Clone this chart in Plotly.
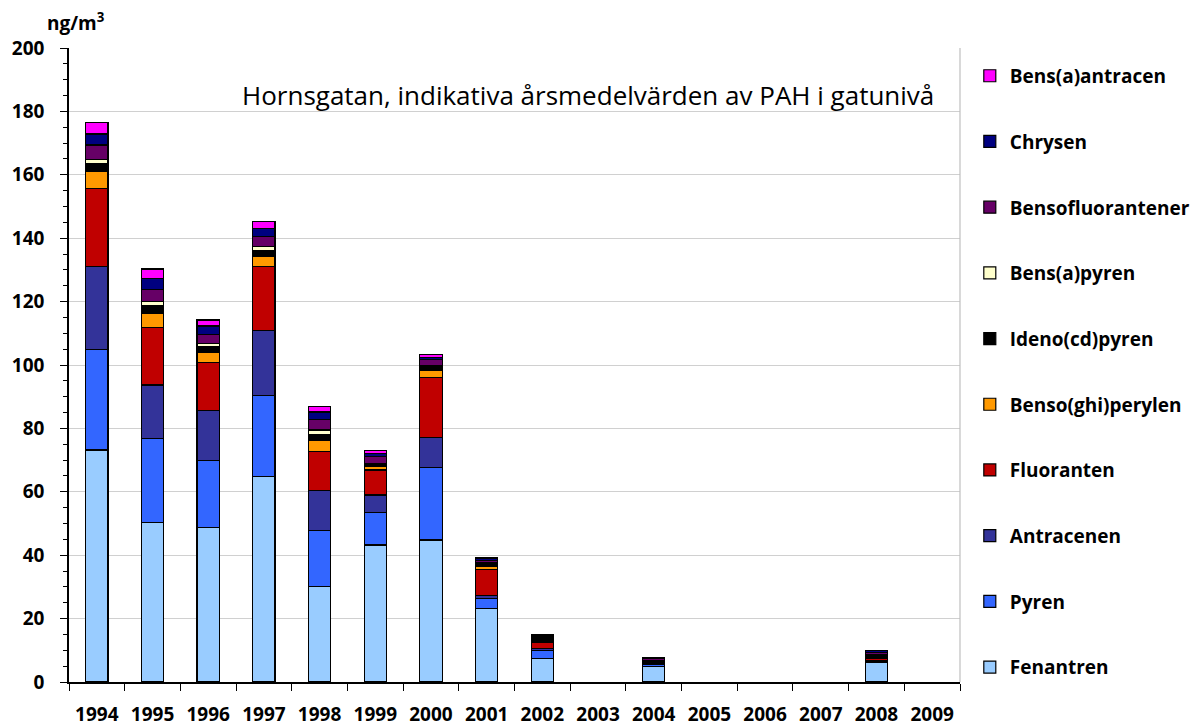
import plotly.graph_objects as go

years = ["1994", "1995", "1996", "1997", "1998", "1999", "2000", "2001",
         "2002", "2003", "2004", "2005", "2006", "2007", "2008", "2009"]

fenantren = [73.2, 50.3, 48.8, 64.8, 30.2, 43.2, 44.8, 23.2, 7.4, None, 5.0, None, None, None, 6.1, None]
pyren = [31.8, 26.5, 21.1, 25.6, 17.7, 10.3, 22.8, 3.2, 2.6, None, 0.4, None, None, None, 0.5, None]
antracenen = [26.0, 16.9, 15.8, 20.6, 12.6, 5.5, 9.5, 1.0, 0.6, None, 0.2, None, None, None, 0.3, None]
fluoranten = [24.7, 18.1, 15.0, 20.0, 12.1, 7.9, 18.9, 8.1, 1.9, None, 0.1, None, None, None, 0.4, None]
benso_ghi_perylen = [5.3, 4.6, 3.4, 3.2, 3.5, 1.0, 2.2, 0.9, 0.4, None, 0.1, None, None, None, 0.2, None]
ideno_cd_pyren = [2.6, 2.3, 1.7, 1.8, 1.8, 0.8, 1.3, 1.0, 0.8, None, 1.0, None, None, None, 1.2, None]
bens_a_pyren = [1.3, 1.3, 1.0, 1.3, 1.6, 0.3, 0.4, 0.3, 0.1, None, 0.1, None, None, None, 0.1, None]
bensofluorantener = [4.5, 3.9, 2.7, 3.2, 3.4, 2.2, 1.9, 0.6, 0.3, None, 0.5, None, None, None, 0.6, None]
chrysen = [3.5, 3.4, 2.8, 2.6, 2.3, 0.8, 0.6, 0.6, 0.4, None, 0.4, None, None, None, 0.5, None]
bens_a_antracen = [3.5, 3.0, 1.9, 2.1, 1.6, 1.0, 0.8, 0.4, 0.3, None, 0.0, None, None, None, 0.0, None]

series_names = ["Fenantren", "Pyren", "Antracenen", "Fluoranten", "Benso(ghi)perylen",
                "Ideno(cd)pyren", "Bens(a)pyren", "Bensofluorantener", "Chrysen", "Bens(a)antracen"]
series_values = [fenantren, pyren, antracenen, fluoranten, benso_ghi_perylen,
                 ideno_cd_pyren, bens_a_pyren, bensofluorantener, chrysen, bens_a_antracen]
series_colors = ["#99CCFF", "#3366FF", "#333399", "#C00000", "#FF9900",
                 "#000000", "#FFFFCC", "#660066", "#000080", "#FF00FF"]

FONT = "Open Sans"

fig = go.Figure()
n = len(series_names)
for i, (name, vals, col) in enumerate(zip(series_names, series_values, series_colors)):
    fig.add_trace(go.Bar(
        x=years, y=vals, name=name, legendgroup=name,
        legendrank=n - i,
        marker=dict(color=col, line=dict(color="black", width=1.2)),
    ))

fig.update_layout(
    barmode="stack",
    bargap=0.6,
    width=1201, height=728,
    paper_bgcolor="white", plot_bgcolor="white",
    margin=dict(l=69, r=241, t=48, b=46, autoexpand=False),
    font=dict(family=FONT, color="black"),
    showlegend=True,
    legend=dict(
        x=1.011, xanchor="left", y=0.986, yanchor="top",
        traceorder="grouped",
        tracegroupgap=38,
        font=dict(family=FONT, size=19, color="black", weight="bold"),
        itemwidth=30,
        maxheight=728,
    ),
    xaxis=dict(
        type="category",
        automargin=False,
        tickangle=0,
        showline=True, linecolor="black", linewidth=1.5,
        ticks="outside", ticklen=7, tickcolor="black", tickwidth=1.2,
        tickson="boundaries",
        tickfont=dict(family=FONT, size=19, color="black", weight="bold"),
        ticklabelstandoff=14,
        showgrid=False,
    ),
    yaxis=dict(
        range=[0, 200], dtick=20,
        automargin=False,
        showline=True, linecolor="black", linewidth=1.5,
        ticks="outside", ticklen=7, tickcolor="black", tickwidth=1.2,
        minor=dict(dtick=5, ticks="outside", ticklen=4, tickcolor="black", showgrid=False),
        tickfont=dict(family=FONT, size=19, color="black", weight="bold"),
        ticklabelstandoff=12,
        showgrid=True, gridcolor="#D0D0D0", gridwidth=1.2,
        zeroline=False,
    ),
)

fig.add_shape(type="line", xref="paper", yref="paper", x0=1, x1=1, y0=0, y1=1,
              line=dict(color="#BFBFBF", width=1.2))

fig.add_annotation(
    text="Hornsgatan, indikativa årsmedelvärden av PAH i gatunivå",
    xref="paper", yref="paper", x=0.973, y=0.926, xanchor="right", yanchor="middle",
    showarrow=False, font=dict(family=FONT, size=26, color="black"),
)
fig.add_annotation(
    text="ng/m<sup>3</sup>",
    xref="paper", yref="paper", x=-0.027, y=1.041, xanchor="left", yanchor="middle",
    showarrow=False, font=dict(family=FONT, size=19, color="black", weight="bold"),
)

fig.write_html("out.html", config={"displayModeBar": False},
               post_script="document.body.style.margin='0';")
